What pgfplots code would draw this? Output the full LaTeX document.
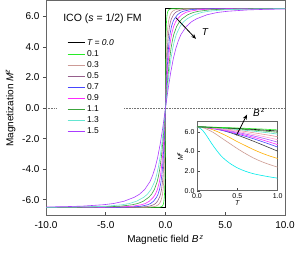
\documentclass[border=0pt]{standalone}
\usepackage{pgfplots}
\pgfplotsset{compat=1.18}
\usepackage{pgfplotstable}
\usepackage{fontspec}
\setmainfont{Liberation Sans}
\usetikzlibrary{arrows.meta}

\definecolor{c01}{RGB}{40,235,40}
\definecolor{c03}{RGB}{205,155,150}
\definecolor{c05}{RGB}{150,95,140}
\definecolor{c07}{RGB}{70,70,255}
\definecolor{c09}{RGB}{255,40,255}
\definecolor{c11}{RGB}{60,165,60}
\definecolor{c13}{RGB}{100,230,210}
\definecolor{c15}{RGB}{170,60,255}
\definecolor{icyan}{RGB}{0,235,235}
\definecolor{irosy}{RGB}{205,155,145}
\definecolor{iorange}{RGB}{255,175,0}
\definecolor{igray}{RGB}{60,60,60}
\definecolor{iblue}{RGB}{70,70,255}
\definecolor{imag}{RGB}{255,40,255}
\definecolor{iviol}{RGB}{170,90,255}
\definecolor{ipink}{RGB}{255,160,210}
\definecolor{isalm}{RGB}{230,150,150}
\definecolor{iaqua}{RGB}{90,220,200}
\definecolor{igreen}{RGB}{60,165,60}
\definecolor{ilime}{RGB}{40,235,40}

% main curves: magnetization M and field B for each temperature
\pgfplotstableread{
M      b01      b03   b05     b07    b09     b11     b13     b15
-6.50  -10      -10   -10     -10    -10     -10     -10     -10
-6.49  -0.5     -1.5  -2.5    -3.75  -5.085  -6.977  -9.091  -13.04
-6.46  -0.3333  -1.0  -1.667  -2.5   -3.390  -4.651  -6.061  -8.696
-6.42  -0.2667  -0.8  -1.333  -2.0   -2.712  -3.721  -4.848  -6.957
-6.33  -0.2     -0.6  -1.0    -1.5   -2.034  -2.791  -3.636  -5.217
-6.25  -0.1667  -0.5  -0.833  -1.25  -1.695  -2.326  -3.030  -4.348
-6.10  -0.1333  -0.4  -0.667  -1.0   -1.356  -1.860  -2.424  -3.478
-5.84  -0.1     -0.3  -0.5    -0.75  -1.017  -1.395  -1.818  -2.609
-5.64  -0.0833  -0.25 -0.417  -0.625 -0.847  -1.163  -1.515  -2.174
-5.33  -0.0667  -0.2  -0.333  -0.5   -0.678  -0.930  -1.212  -1.739
-4.82  -0.05    -0.15 -0.25   -0.375 -0.508  -0.698  -0.909  -1.304
-4.43  -0.0417  -0.125 -0.208 -0.313 -0.424  -0.581  -0.758  -1.087
-3.91  -0.0333  -0.1  -0.167  -0.25  -0.339  -0.465  -0.606  -0.870
-3.22  -0.025   -0.075 -0.125 -0.188 -0.254  -0.349  -0.455  -0.652
-2.32  -0.0167  -0.05 -0.083  -0.125 -0.169  -0.233  -0.303  -0.435
-1.23  -0.0083  -0.025 -0.042 -0.063 -0.085  -0.116  -0.152  -0.217
0      0        0     0       0      0       0       0       0
1.23   0.0083   0.025 0.042   0.063  0.085   0.116   0.152   0.217
2.32   0.0167   0.05  0.083   0.125  0.169   0.233   0.303   0.435
3.22   0.025    0.075 0.125   0.188  0.254   0.349   0.455   0.652
3.91   0.0333   0.1   0.167   0.25   0.339   0.465   0.606   0.870
4.43   0.0417   0.125 0.208   0.313  0.424   0.581   0.758   1.087
4.82   0.05     0.15  0.25    0.375  0.508   0.698   0.909   1.304
5.33   0.0667   0.2   0.333   0.5    0.678   0.930   1.212   1.739
5.64   0.0833   0.25  0.417   0.625  0.847   1.163   1.515   2.174
5.84   0.1      0.3   0.5     0.75   1.017   1.395   1.818   2.609
6.10   0.1333   0.4   0.667   1.0    1.356   1.860   2.424   3.478
6.25   0.1667   0.5   0.833   1.25   1.695   2.326   3.030   4.348
6.33   0.2      0.6   1.0     1.5    2.034   2.791   3.636   5.217
6.42   0.2667   0.8   1.333   2.0    2.712   3.721   4.848   6.957
6.46   0.3333   1.0   1.667   2.5    3.390   4.651   6.061   8.696
6.49   0.5      1.5   2.5     3.75   5.085   6.977   9.091   13.04
6.50   10       10    10      10     10      10      10      10
}\main

% inset: M versus T for several fields
\pgfplotstableread{
T     cy    ro    or    gr    bl    ma    vi    pi    sa    aq    gn    bk    li
0.00  6.50  6.50  6.50  6.50  6.50  6.50  6.50  6.50  6.50  6.50  6.50  6.50  6.50
0.05  6.30  6.47  6.49  6.50  6.48  6.48  6.48  6.49  6.49  6.49  6.49  6.50  6.50
0.10  5.84  6.35  6.45  6.48  6.43  6.44  6.45  6.46  6.47  6.48  6.48  6.49  6.49
0.20  4.60  5.95  6.20  6.38  6.32  6.34  6.36  6.38  6.41  6.43  6.45  6.46  6.47
0.30  3.55  5.40  5.85  6.20  6.16  6.20  6.25  6.29  6.34  6.38  6.41  6.43  6.45
0.40  2.85  4.85  5.45  5.95  5.98  6.04  6.11  6.17  6.25  6.32  6.36  6.39  6.42
0.50  2.35  4.30  5.00  5.67  5.77  5.86  5.95  6.04  6.15  6.24  6.31  6.35  6.39
0.60  2.00  3.80  4.60  5.37  5.55  5.66  5.78  5.90  6.04  6.16  6.24  6.30  6.36
0.70  1.75  3.35  4.20  5.05  5.30  5.45  5.59  5.74  5.91  6.07  6.18  6.25  6.32
0.80  1.58  2.98  3.85  4.72  5.03  5.21  5.39  5.57  5.78  5.98  6.11  6.20  6.29
0.90  1.43  2.68  3.55  4.38  4.75  4.96  5.18  5.39  5.65  5.88  6.03  6.14  6.24
1.00  1.30  2.42  3.30  4.04  4.45  4.70  4.95  5.20  5.50  5.77  5.95  6.08  6.20
}\inset

\begin{document}
\begin{tikzpicture}
\begin{axis}[
  at={(0,0)}, anchor=south west,
  scale only axis, width=239pt, height=214pt,
  xmin=-10, xmax=10, ymin=-7, ymax=7,
  xtick={-10,-5,0,5,10}, ytick={-6,-4,-2,0,2,4,6},
  xtick pos=bottom, ytick pos=left,
  tick align=outside, major tick length=3pt,
  x tick style={yshift=3pt},
  tick style={black!70, line width=0.6pt},
  axis line style={black!60, line width=1pt},
  /pgf/number format/fixed, /pgf/number format/fixed zerofill,
  /pgf/number format/precision=1, /pgf/number format/assume math mode=true,
  ticklabel style={font=\fontsize{10}{12}\selectfont},
  xlabel={Magnetic field \textit{B}\textsuperscript{\,\textit{z}}},
  ylabel={Magnetization \textit{M}\textsuperscript{\textit{z}}},
  label style={font=\fontsize{10}{12}\selectfont},
  legend style={at={(0.075,0.84)}, anchor=north west, draw=none, fill=white,
    font=\fontsize{8.5}{10}\selectfont, row sep=0pt, inner xsep=3pt, inner ysep=2pt,
    nodes={inner ysep=1.5pt, text height=6.5pt, text depth=1.5pt}},
  legend cell align=left,
  legend image code/.code={\draw[#1] (0pt,0pt) -- (17pt,0pt);},
]
\addplot[black!55, densely dotted, line width=0.6pt, forget plot] coordinates {(-10,0) (-9.08,0)};
\addplot[black!55, densely dotted, line width=0.6pt, forget plot] coordinates {(-3.47,0) (10,0)};
\addplot[black, line width=1pt] coordinates {(-10,-6.5) (0,-6.5) (0,6.5) (10,6.5)};
\addlegendentry{\textit{T = 0.0}}
\addplot[c01, line width=0.6pt] table[x=b01,y=M]{\main};
\addlegendentry{0.1}
\addplot[c03, line width=0.6pt] table[x=b03,y=M]{\main};
\addlegendentry{0.3}
\addplot[c05, line width=0.6pt] table[x=b05,y=M]{\main};
\addlegendentry{0.5}
\addplot[c07, line width=0.6pt] table[x=b07,y=M]{\main};
\addlegendentry{0.7}
\addplot[c09, line width=0.6pt] table[x=b09,y=M]{\main};
\addlegendentry{0.9}
\addplot[c11, line width=0.6pt] table[x=b11,y=M]{\main};
\addlegendentry{1.1}
\addplot[c13, line width=0.6pt] table[x=b13,y=M]{\main};
\addlegendentry{1.3}
\addplot[c15, line width=0.6pt] table[x=b15,y=M]{\main};
\addlegendentry{1.5}
\node[anchor=west, font=\fontsize{10.5}{12}\selectfont] at (axis cs:-8.85,5.82) {ICO (\textit{s} = 1/2) FM};
\draw[-{Stealth[length=5pt,width=4pt]}, line width=0.8pt] (axis cs:0.88,5.9) -- (axis cs:2.55,4.52);
\node[font=\fontsize{10}{12}\selectfont\itshape] at (axis cs:3.3,4.95) {T};
\end{axis}

\begin{axis}[
  at={(151pt,24pt)}, anchor=south west,
  scale only axis, width=80.7pt, height=69pt,
  xmin=0, xmax=1, ymin=0, ymax=7,
  xtick={0,0.5,1}, ytick={0,2,4,6},
  xtick pos=bottom, ytick pos=left,
  tick align=inside, major tick length=2.5pt,
  tick style={black!70, line width=0.5pt},
  axis line style={black!60, line width=1pt},
  axis background/.style={fill=white},
  clip=false,
  /pgf/number format/fixed, /pgf/number format/fixed zerofill,
  /pgf/number format/precision=1, /pgf/number format/assume math mode=true,
  ticklabel style={font=\fontsize{7}{8}\selectfont},
  xticklabel style={yshift=1pt},
  yticklabel style={xshift=1pt},
  xlabel={\textit{T}}, ylabel={\textit{M}\textsuperscript{\textit{z}}},
  label style={font=\fontsize{7}{8}\selectfont},
  xlabel style={yshift=5pt},
  ylabel style={yshift=-5pt},
]
\addplot[icyan, line width=0.6pt, smooth] table[x=T,y=cy]{\inset};
\addplot[irosy, line width=0.6pt, smooth] table[x=T,y=ro]{\inset};
\addplot[iorange, line width=0.6pt, smooth] table[x=T,y=or]{\inset};
\addplot[igray, line width=0.6pt, smooth] table[x=T,y=gr]{\inset};
\addplot[iblue, line width=0.6pt, smooth] table[x=T,y=bl]{\inset};
\addplot[imag, line width=0.6pt, smooth] table[x=T,y=ma]{\inset};
\addplot[iviol, line width=0.6pt, smooth] table[x=T,y=vi]{\inset};
\addplot[ipink, line width=0.6pt, smooth] table[x=T,y=pi]{\inset};
\addplot[isalm, line width=0.6pt, smooth] table[x=T,y=sa]{\inset};
\addplot[iaqua, line width=0.6pt, smooth] table[x=T,y=aq]{\inset};
\addplot[igreen, line width=0.6pt, smooth] table[x=T,y=gn]{\inset};
\addplot[black, line width=0.6pt, smooth] table[x=T,y=bk]{\inset};
\addplot[ilime, line width=0.6pt, smooth] table[x=T,y=li]{\inset};
\draw[-{Stealth[length=5pt,width=4pt]}, line width=0.8pt] (axis cs:0.49,5.66) -- (axis cs:0.62,7.75);
\node[font=\fontsize{10}{12}\selectfont] at (axis cs:0.77,7.95) {\textit{B}\textsuperscript{\,\textit{z}}};
\end{axis}
\pgfresetboundingbox
\path (-46pt,-39pt) rectangle (251pt,215pt);
\end{tikzpicture}
\end{document}
